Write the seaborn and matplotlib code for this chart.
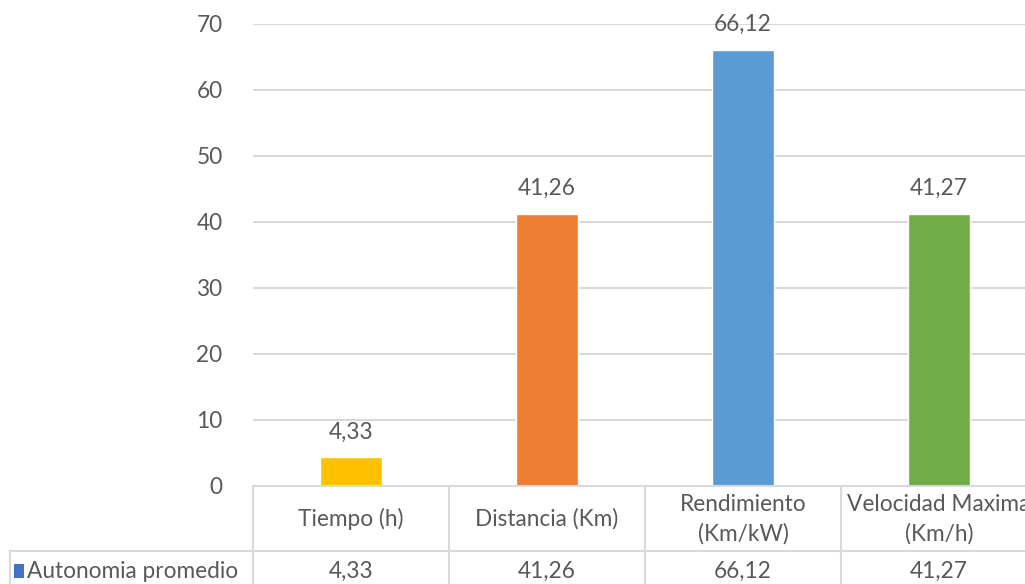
import matplotlib
matplotlib.use("Agg")
import matplotlib.pyplot as plt
import matplotlib.transforms as mtransforms
import seaborn as sns
import pandas as pd

categories = ["Tiempo (h)", "Distancia (Km)", "Rendimiento\n(Km/kW)", "Velocidad Maxima\n(Km/h)"]
values = [4.33, 41.26, 66.12, 41.27]
value_labels = ["4,33", "41,26", "66,12", "41,27"]
series_name = "Autonomia promedio"
bar_colors = ["#FFC000", "#ED7D31", "#5B9BD5", "#70AD47"]
legend_color = "#4472C4"
y_ticks = [0, 10, 20, 30, 40, 50, 60, 70]

sns.set_theme(style="white")
plt.rcParams["font.family"] = ["Lato", "DejaVu Sans"]

text_color = "#595959"
grid_color = "#D9D9D9"
fs = 16.3

W, H = 1025, 584
fig = plt.figure(figsize=(W / 100, H / 100), dpi=100)
# plot area spans beyond the right edge of the canvas
ax = fig.add_axes([253 / W, 1 - 486 / H, (1037 - 253) / W, (486 - 24) / H])

df = pd.DataFrame({"cat": categories, "val": values})
sns.barplot(data=df, x="cat", y="val", hue="cat", palette=bar_colors,
            width=0.32, legend=False, ax=ax, saturation=1)

ax.set_ylim(0, 70)
ax.set_xlim(-0.5, 3.5)
ax.set_yticks(y_ticks)
ax.set_yticklabels([str(t) for t in y_ticks], fontsize=fs, color=text_color)
ax.tick_params(axis="y", length=0, pad=22)
ax.set_xticks([])
ax.set_xlabel("")
ax.set_ylabel("")
for s in ax.spines.values():
    s.set_visible(False)
ax.yaxis.grid(True, color=grid_color, linewidth=1.5)
ax.set_axisbelow(True)

for i, (v, lab) in enumerate(zip(values, value_labels)):
    ax.annotate(lab, (i, v), xytext=(0, 25), textcoords="offset pixels",
                ha="center", va="center", fontsize=fs, color=text_color)

# data table under the plot: x in data units, y in figure pixels
def fy(px):
    return 1 - px / H

blend = mtransforms.blended_transform_factory(ax.transData, fig.transFigure)
fig_px = fig.transFigure

line_kw = dict(color=grid_color, linewidth=1.5, clip_on=False)
ax.plot([-0.5, 3.6], [fy(486), fy(486)], transform=blend, **line_kw)
ax.plot([-0.5, 3.6], [fy(551), fy(551)], transform=blend, **line_kw)
fig.add_artist(plt.Line2D([10 / W, 253 / W], [fy(551), fy(551)], transform=fig_px,
                          color=grid_color, linewidth=1.5))
fig.add_artist(plt.Line2D([10 / W, 10 / W], [fy(551), fy(590)], transform=fig_px,
                          color=grid_color, linewidth=1.5))
for xb in [-0.5, 0.5, 1.5, 2.5]:
    ax.plot([xb, xb], [fy(486), fy(590)], transform=blend, **line_kw)

for i, (cat, lab) in enumerate(zip(categories, value_labels)):
    ax.text(i, fy(519), cat, transform=blend, ha="center", va="center",
            fontsize=fs, color=text_color, linespacing=1.45, clip_on=False)
    ax.text(i, fy(571), lab, transform=blend, ha="center", va="center",
            fontsize=fs, color=text_color, clip_on=False)

fig.add_artist(plt.Rectangle((14 / W, fy(578)), 10 / W, 14 / H, transform=fig_px,
                             facecolor=legend_color, edgecolor="none"))
fig.text(27 / W, fy(571), series_name, ha="left", va="center",
         fontsize=fs, color=text_color)

fig.savefig("out.png", dpi=100)
